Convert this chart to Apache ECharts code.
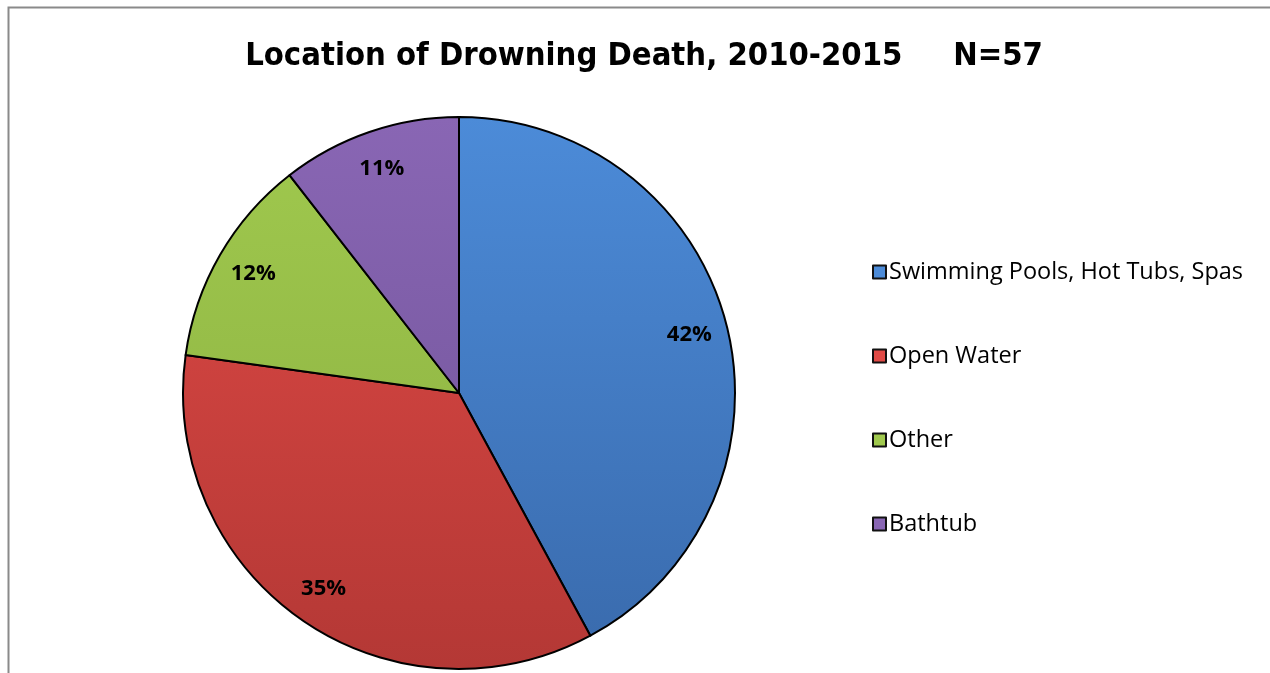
<!DOCTYPE html>
<html>
<head>
<meta charset="utf-8">
<script src="https://cdn.jsdelivr.net/npm/echarts@6/dist/echarts.min.js"></script>
<style>
html,body{margin:0;padding:0;background:#fff;}
#c{width:1270px;height:673px;}
</style>
</head>
<body>
<div id="c"></div>
<script>
const categories = ['Swimming Pools, Hot Tubs, Spas', 'Open Water', 'Other', 'Bathtub'];
const counts = [24, 20, 7, 6];
const titleText = 'Location of Drowning Death, 2010-2015     N=57';
const topColors = ['#4c8bd8', '#e04a46', '#a0c94e', '#8966b4'];
const bottomColors = ['#396aac', '#b43835', '#8aae40', '#6e5296'];

const cx = 459, cy = 393, R = 276;

function grad(i) {
  return new echarts.graphic.LinearGradient(0, cy - R, 0, cy + R, [
    { offset: 0, color: topColors[i] },
    { offset: 1, color: bottomColors[i] }
  ], true);
}

const data = categories.map((name, i) => ({
  name: name,
  value: counts[i],
  itemStyle: { color: grad(i) }
}));

const total = counts.reduce((a, b) => a + b, 0);

const chart = echarts.init(document.getElementById('c'), null, { renderer: 'canvas' });
chart.setOption({
  animation: false,
  backgroundColor: '#ffffff',
  graphic: [{
    type: 'rect',
    shape: { x: 8.5, y: 7.5, width: 1400, height: 800 },
    style: { fill: 'none', stroke: '#8a8a8a', lineWidth: 2 },
    silent: true,
    z: 0
  }],
  title: {
    text: titleText,
    left: 639,
    textAlign: 'center',
    top: 35,
    textStyle: {
      fontFamily: '"Liberation Sans Narrow", "DejaVu Sans Condensed", Arial, sans-serif',
      fontWeight: 'bold',
      fontSize: 32.5,
      color: '#000'
    }
  },
  legend: {
    orient: 'vertical',
    left: 867,
    top: 255,
    itemGap: 60,
    itemWidth: 13,
    itemHeight: 13,
    icon: 'rect',
    data: categories.map((n, i) => ({
      name: n,
      itemStyle: { color: topColors[i], borderColor: '#111', borderWidth: 2 }
    })),
    textStyle: {
      fontFamily: '"Open Sans", "Noto Sans", sans-serif',
      fontSize: 23.5,
      lineHeight: 24,
      color: '#000',
      padding: [0, 0, 0, -2]
    }
  },
  series: [{
    type: 'pie',
    center: [cx, cy],
    radius: [0, R],
    startAngle: 90,
    clockwise: true,
    data: data,
    itemStyle: { borderColor: '#000', borderWidth: 2 },
    label: { show: false },
    labelLine: { show: false },
    emphasis: { disabled: true },
    z: 2
  }, {
    type: 'pie',
    center: [cx, cy],
    radius: [R * 0.7, R],
    startAngle: 90,
    clockwise: true,
    silent: true,
    data: categories.map((name, i) => ({ name: name, value: counts[i] })),
    itemStyle: { color: 'rgba(0,0,0,0)', borderWidth: 0 },
    label: {
      show: true,
      position: 'inside',
      formatter: p => Math.round(p.value / total * 100) + '%',
      fontFamily: '"Open Sans", "Noto Sans", sans-serif',
      fontWeight: 'bold',
      fontSize: 22,
      color: '#000'
    },
    labelLine: { show: false },
    emphasis: { disabled: true },
    z: 3
  }]
});
</script>
</body>
</html>
